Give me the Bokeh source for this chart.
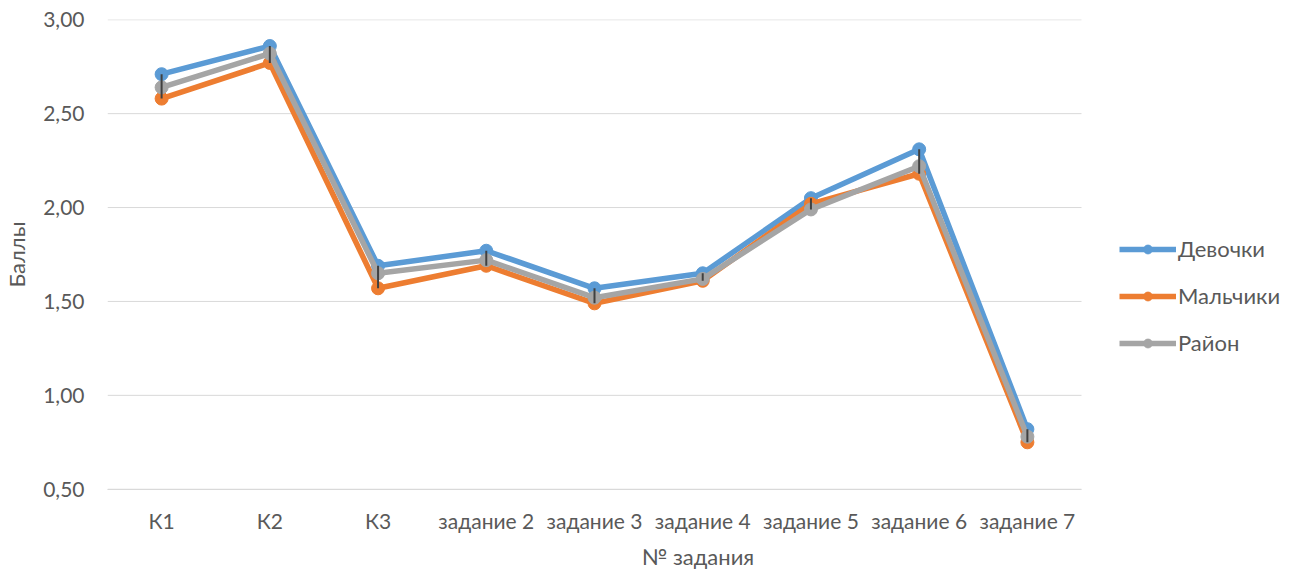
from bokeh.plotting import figure
from bokeh.models import (Range1d, FixedTicker, CustomJSTickFormatter,
                          Legend, LegendItem, ColumnDataSource)
from bokeh.embed import file_html
from bokeh.resources import INLINE

categories = ["К1", "К2", "К3", "задание 2", "задание 3", "задание 4",
              "задание 5", "задание 6", "задание 7"]
girls = [2.71, 2.86, 1.69, 1.77, 1.57, 1.65, 2.05, 2.31, 0.82]
boys = [2.58, 2.77, 1.57, 1.69, 1.49, 1.61, 2.02, 2.18, 0.75]
district = [2.64, 2.82, 1.65, 1.72, 1.52, 1.62, 1.99, 2.22, 0.78]
series_names = ["Девочки", "Мальчики", "Район"]
y_ticks = [0.5, 1.0, 1.5, 2.0, 2.5, 3.0]

colors = ["#5B9BD5", "#ED7D31", "#A5A5A5"]
FONT = "Lato"
TXT = "#595959"

n = len(categories)
xs = [i + 0.5 for i in range(n)]
FW = 1181
x_end = n * FW / 974.0

p = figure(frame_width=FW, frame_height=470,
           x_range=Range1d(0, x_end), y_range=Range1d(0.4987, 3.0013),
           output_backend="svg", toolbar_location=None,
           min_border_left=106, min_border_top=19, min_border_bottom=83,
           min_border_right=0)
p.outline_line_color = None
p.xgrid.grid_line_color = None
p.ygrid.grid_line_color = None

# horizontal gridlines limited to the category area
p.segment(x0=[0] * len(y_ticks), x1=[n] * len(y_ticks), y0=y_ticks, y1=y_ticks,
          line_color="#D9D9D9", line_width=1, level="underlay")

p.yaxis.ticker = FixedTicker(ticks=y_ticks)
p.yaxis.formatter = CustomJSTickFormatter(code="return tick.toFixed(2).replace('.', ',');")
p.xaxis.ticker = FixedTicker(ticks=xs)
p.xaxis.major_label_overrides = {x: c for x, c in zip(xs, categories)}
p.xaxis.bounds = (0, n)
for ax in (p.xaxis[0], p.yaxis[0]):
    ax.major_tick_line_color = None
    ax.minor_tick_line_color = None
    ax.major_tick_out = 0
    ax.major_tick_in = 0
    ax.minor_tick_out = 0
    ax.minor_tick_in = 0
    ax.major_label_text_font = FONT
    ax.major_label_text_font_size = "21px"
    ax.major_label_text_color = TXT
    ax.axis_label_text_font = FONT
    ax.axis_label_text_font_size = "22px"
    ax.axis_label_text_color = TXT
    ax.axis_label_text_font_style = "normal"
p.yaxis.axis_line_color = None
p.xaxis.axis_line_color = "#D9D9D9"
p.yaxis.major_label_standoff = 23
p.xaxis.major_label_standoff = 18
p.xaxis.axis_label = "№ задания"
p.yaxis.axis_label = "Баллы"
p.xaxis.axis_label_standoff = 7
p.yaxis.axis_label_standoff = 10

items = []
for name, vals, col in zip(series_names, [girls, boys, district], colors):
    src = ColumnDataSource(dict(x=xs, y=vals))
    l = p.line("x", "y", source=src, line_color=col, line_width=5.5, line_join="round")
    s = p.scatter("x", "y", source=src, size=13, fill_color=col, line_color=col)
    items.append(LegendItem(label=name, renderers=[l, s]))

hi = [max(a, b, c) for a, b, c in zip(girls, boys, district)]
lo = [min(a, b, c) for a, b, c in zip(girls, boys, district)]
p.segment(x0=xs, y0=hi, x1=xs, y1=lo, line_color="#404040", line_width=2)

legend = Legend(items=items, location=(1012, 133), orientation="vertical",
                glyph_width=57, glyph_height=22, label_standoff=2, spacing=20,
                label_text_font=FONT, label_text_font_size="22px",
                label_text_color=TXT, border_line_color=None,
                background_fill_alpha=0, padding=0, margin=0)
p.add_layout(legend)

open("out.html", "w").write(file_html(p, INLINE))
